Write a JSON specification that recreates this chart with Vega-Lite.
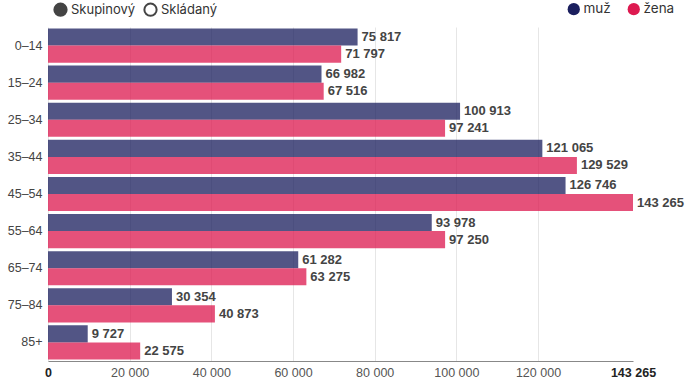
{
  "$schema": "https://vega.github.io/schema/vega-lite/v6.json",
  "width": 585,
  "height": 334,
  "autosize": {"type": "none"},
  "padding": {"left": 48, "top": 27, "right": 57, "bottom": 26},
  "config": {
    "locale": {"number": {"decimal": ",", "thousands": " ", "grouping": [3], "currency": ["", " Kč"]}},
    "view": {"stroke": null},
    "font": "Liberation Sans"
  },
  "datasets": {
    "pop": [
      {"age": "0–14", "sex": "muž", "value": 75817},
      {"age": "0–14", "sex": "žena", "value": 71797},
      {"age": "15–24", "sex": "muž", "value": 66982},
      {"age": "15–24", "sex": "žena", "value": 67516},
      {"age": "25–34", "sex": "muž", "value": 100913},
      {"age": "25–34", "sex": "žena", "value": 97241},
      {"age": "35–44", "sex": "muž", "value": 121065},
      {"age": "35–44", "sex": "žena", "value": 129529},
      {"age": "45–54", "sex": "muž", "value": 126746},
      {"age": "45–54", "sex": "žena", "value": 143265},
      {"age": "55–64", "sex": "muž", "value": 93978},
      {"age": "55–64", "sex": "žena", "value": 97250},
      {"age": "65–74", "sex": "muž", "value": 61282},
      {"age": "65–74", "sex": "žena", "value": 63275},
      {"age": "75–84", "sex": "muž", "value": 30354},
      {"age": "75–84", "sex": "žena", "value": 40873},
      {"age": "85+", "sex": "muž", "value": 9727},
      {"age": "85+", "sex": "žena", "value": 22575}
    ],
    "modes": [
      {"mode": "Skupinový"},
      {"mode": "Skládaný"}
    ]
  },
  "layer": [
    {
      "data": {"name": "pop"},
      "mark": {"type": "bar", "fillOpacity": 0.76},
      "encoding": {
        "y": {
          "field": "age", "type": "nominal", "sort": null,
          "scale": {"paddingInner": 0.08, "paddingOuter": 0.04},
          "axis": {"title": null, "domain": false, "ticks": false, "labelPadding": 6, "labelFontSize": 12.5, "labelColor": "#444", "grid": false}
        },
        "yOffset": {"field": "sex", "type": "nominal", "sort": ["muž", "žena"]},
        "x": {
          "field": "value", "type": "quantitative",
          "scale": {"domain": [0, 143265], "nice": false},
          "axis": {
            "title": null,
            "values": [0, 20000, 40000, 60000, 80000, 100000, 120000, 143265],
            "format": ",d",
            "ticks": false,
            "labelPadding": 5,
            "labelFontSize": 12.5,
            "labelColor": {"condition": {"test": "datum.value == 0 || datum.value == 143265", "value": "#222"}, "value": "#555"},
            "labelFontWeight": {"condition": {"test": "datum.value == 0 || datum.value == 143265", "value": "bold"}, "value": "normal"},
            "gridColor": "#e6e6e6",
            "gridOpacity": {"condition": {"test": "datum.value == 143265", "value": 0}, "value": 1},
            "domainColor": "#888",
            "labelFlush": false
          }
        },
        "color": {
          "field": "sex", "type": "nominal",
          "scale": {"domain": ["muž", "žena"], "range": ["#1b1f5e", "#dd1a50"]},
          "legend": {
            "title": null, "orient": "none", "legendX": 519, "legendY": -25, "direction": "horizontal",
            "symbolType": "circle", "symbolSize": 150, "symbolOpacity": 1, "symbolStrokeWidth": 0,
            "labelFont": "Inter", "labelFontSize": 13.5, "labelColor": "#333", "columnPadding": 16, "labelOffset": 3, "padding": 0
          }
        }
      }
    },
    {
      "data": {"name": "pop"},
      "mark": {"type": "text", "align": "left", "baseline": "middle", "dx": 4, "fontWeight": "bold", "fontSize": 13, "fill": "#444"},
      "encoding": {
        "y": {"field": "age", "type": "nominal", "sort": null},
        "yOffset": {"field": "sex", "type": "nominal", "sort": ["muž", "žena"]},
        "x": {"field": "value", "type": "quantitative"},
        "text": {"field": "value", "type": "quantitative", "format": ",d"}
      }
    },
    {
      "data": {"name": "modes"},
      "mark": {"type": "point", "filled": true, "opacity": 0},
      "encoding": {
        "fill": {
          "field": "mode", "type": "nominal",
          "scale": {"domain": ["Skupinový", "Skládaný"], "range": ["#444444", "#ffffff"]},
          "legend": {
            "title": null, "orient": "none", "legendX": 5, "legendY": -25, "direction": "horizontal",
            "symbolType": "circle", "symbolSize": 150, "symbolOpacity": 1, "symbolStrokeColor": "#444", "symbolStrokeWidth": 2,
            "labelFont": "Inter", "labelFontSize": 13, "labelColor": "#333", "columnPadding": 4, "labelOffset": 3, "padding": 0
          }
        }
      }
    }
  ]
}
